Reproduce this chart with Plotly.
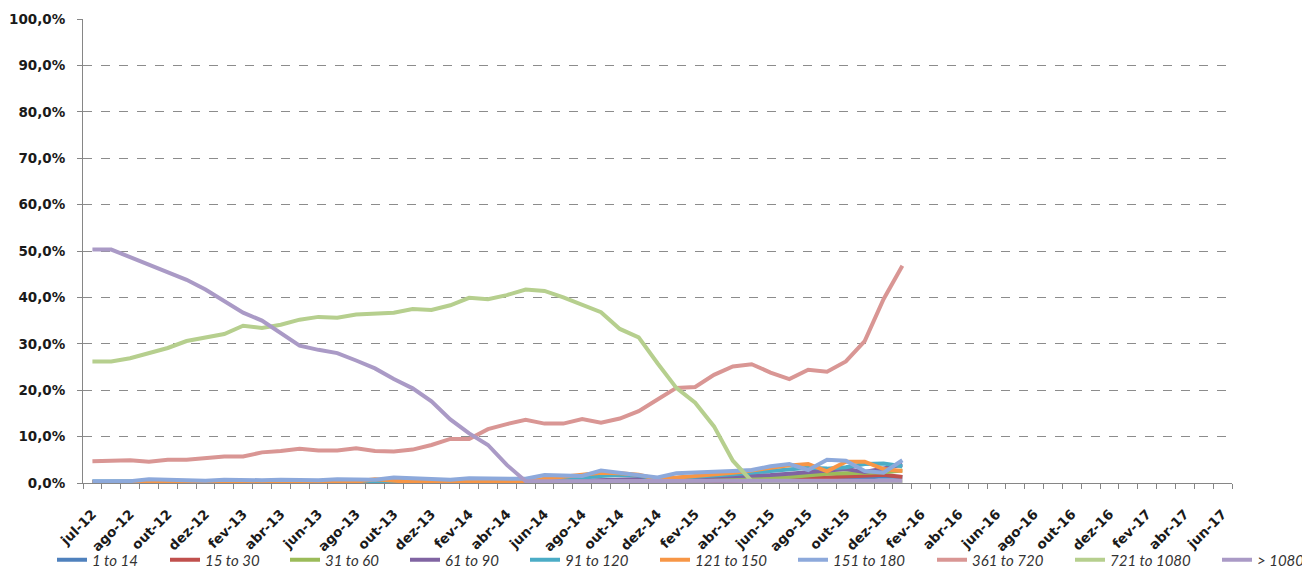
import plotly.graph_objects as go

# ---- axis labels ----
x_tick_labels = ["jul-12", "ago-12", "out-12", "dez-12", "fev-13", "abr-13", "jun-13", "ago-13",
                 "out-13", "dez-13", "fev-14", "abr-14", "jun-14", "ago-14", "out-14", "dez-14",
                 "fev-15", "abr-15", "jun-15", "ago-15", "out-15", "dez-15", "fev-16", "abr-16",
                 "jun-16", "ago-16", "out-16", "dez-16", "fev-17", "abr-17", "jun-17"]
n_categories = 61
y_tick_values = [0, 10, 20, 30, 40, 50, 60, 70, 80, 90, 100]
y_tick_labels = ["0,0%", "10,0%", "20,0%", "30,0%", "40,0%", "50,0%", "60,0%", "70,0%",
                 "80,0%", "90,0%", "100,0%"]

# ---- series values (percent) ----
s_1_14 = [0.2, 0.2, 0.2, 0.2, 0.2, 0.2, 0.2, 0.2, 0.2, 0.2, 0.2, 0.2, 0.2, 0.2, 0.2, 0.2,
          0.2, 0.2, 0.2, 0.2, 0.2, 0.2, 0.2, 0.2, 0.3, 0.3, 0.4, 0.5, 0.5, 0.5, 0.5, 0.5,
          0.5, 0.6, 0.6, 0.7, 0.7, 0.8, 0.8, 0.9, 1.0, 1.2, 1.4, 1.3]
s_15_30 = [0.2, 0.2, 0.2, 0.2, 0.2, 0.2, 0.2, 0.2, 0.2, 0.2, 0.2, 0.2, 0.2, 0.2, 0.2, 0.2,
           0.2, 0.2, 0.2, 0.2, 0.2, 0.2, 0.2, 0.2, 0.2, 0.2, 0.2, 0.2, 0.2, 0.2, 0.3, 0.3,
           0.4, 0.4, 0.5, 0.5, 0.6, 0.8, 1.0, 1.3, 1.5, 1.6, 1.8, 1.3]
s_31_60 = [0.2, 0.2, 0.2, 0.2, 0.2, 0.2, 0.2, 0.3, 0.2, 0.2, 0.2, 0.2, 0.2, 0.2, 0.2, 0.3,
           0.2, 0.2, 0.2, 0.2, 0.2, 0.2, 0.2, 0.2, 0.2, 0.2, 0.2, 0.2, 0.3, 0.3, 0.3, 0.4,
           0.5, 0.6, 0.8, 0.9, 1.1, 1.3, 1.7, 2.0, 2.1, 2.2, 2.3, 2.7]
s_61_90 = [0.2, 0.2, 0.2, 0.2, 0.2, 0.2, 0.2, 0.2, 0.2, 0.2, 0.2, 0.2, 0.2, 0.2, 0.2, 0.2,
           0.2, 0.2, 0.2, 0.2, 0.2, 0.2, 0.2, 0.2, 0.3, 0.4, 0.5, 0.6, 0.8, 0.8, 0.9, 1.0,
           1.1, 1.2, 1.3, 1.5, 1.7, 2.0, 2.3, 2.6, 3.0, 2.4, 3.2, 3.9]
s_91_120 = [0.3, 0.3, 0.3, 0.4, 0.3, 0.3, 0.3, 0.3, 0.3, 0.3, 0.3, 0.3, 0.3, 0.3, 0.4, 0.3,
            0.4, 0.3, 0.3, 0.3, 0.3, 0.3, 0.3, 0.3, 0.5, 0.8, 1.2, 1.5, 1.7, 1.6, 0.8, 1.0,
            1.3, 1.6, 1.9, 2.2, 2.5, 2.9, 3.3, 3.1, 3.4, 4.1, 4.2, 3.6]
s_121_150 = [0.2, 0.2, 0.2, 0.4, 0.2, 0.2, 0.2, 0.3, 0.2, 0.2, 0.2, 0.2, 0.2, 0.2, 0.3, 0.8,
             0.4, 0.2, 0.2, 0.2, 0.2, 0.2, 0.2, 0.2, 0.9, 1.4, 1.7, 2.2, 2.1, 1.8, 0.8, 1.1,
             1.6, 1.9, 2.2, 2.7, 3.3, 3.8, 4.1, 2.5, 4.6, 4.6, 3.0, 2.6]
s_151_180 = [0.4, 0.4, 0.4, 0.8, 0.7, 0.6, 0.5, 0.7, 0.6, 0.6, 0.7, 0.6, 0.6, 0.8, 0.8, 0.7,
             1.2, 1.0, 0.9, 0.7, 1.0, 1.0, 0.9, 0.9, 1.7, 1.7, 1.5, 2.7, 2.2, 1.7, 1.2, 2.1,
             2.2, 2.4, 2.6, 2.8, 3.6, 4.1, 2.8, 5.0, 4.8, 2.6, 2.2, 4.9]
s_361_720 = [4.7, 4.7, 4.9, 4.6, 5.0, 5.0, 5.3, 5.7, 5.7, 6.6, 6.9, 7.4, 7.0, 7.0, 7.5, 6.9,
             6.8, 7.2, 8.2, 9.5, 9.5, 11.6, 12.7, 13.6, 12.8, 12.8, 13.8, 13.0, 13.9, 15.5, 18.0, 20.5,
             20.7, 23.3, 25.1, 25.6, 23.8, 22.4, 24.4, 24.0, 26.2, 30.6, 39.6, 46.8]
s_721_1080 = [26.2, 26.2, 26.9, 28.0, 29.1, 30.6, 31.4, 32.1, 33.9, 33.4, 34.1, 35.2, 35.8, 35.6, 36.3, 36.4,
              36.7, 37.5, 37.3, 38.3, 39.9, 39.6, 40.5, 41.7, 41.4, 40.0, 38.5, 36.8, 33.2, 31.4, 25.8, 20.5,
              17.3, 12.2, 4.8, 0.4, 0.4, 0.4, 0.4, 0.4, 0.4, 0.4, 0.4, 0.4]
s_gt_1080 = [50.3, 50.3, 48.7, 47.1, 45.5, 43.8, 41.7, 39.3, 36.7, 35.0, 32.3, 29.6, 28.7, 28.0, 26.4, 24.7,
             22.4, 20.4, 17.6, 13.7, 10.7, 8.2, 3.9, 0.4, 0.4, 0.4, 0.4, 0.4, 0.4, 0.4, 0.4, 0.4,
             0.4, 0.4, 0.4, 0.4, 0.4, 0.4, 0.4, 0.4, 0.4, 0.5, 0.6, 0.5]

series_names = ["1 to 14", "15 to 30", "31 to 60", "61 to 90", "91 to 120", "121 to 150",
                "151 to 180", "361 to 720", "721 to 1080", "> 1080"]
series_values = [s_1_14, s_15_30, s_31_60, s_61_90, s_91_120, s_121_150,
                 s_151_180, s_361_720, s_721_1080, s_gt_1080]
series_colors = ["#4F81BD", "#C0504D", "#9BBB59", "#8064A2", "#4BACC6", "#F79646",
                 "#8DA9DB", "#D99694", "#B6CF8E", "#AA9AC6"]

# layout geometry (page pixels; the page body has an 8px default margin)
PAGE_OFF = 8
W, H = 1310 - PAGE_OFF, 569 - PAGE_OFF
ML, MR, MT, MB = 83 - PAGE_OFF, 78, 19 - PAGE_OFF, 86
plot_w = W - ML - MR
plot_h = H - MT - MB
plot_left_page = PAGE_OFF + ML
plot_bottom_page = PAGE_OFF + MT + plot_h
legend_text_px = [93, 206, 326, 446, 566, 696, 834, 973, 1111, 1258]
legend_text_offset = 41
legend_center_px = 560

fig = go.Figure()
legend_font = dict(family="Lato, 'Open Sans', sans-serif", size=15, color="#333333", style="italic")
layout_legends = {}
for i, (name, vals, color) in enumerate(zip(series_names, series_values, series_colors)):
    key = "legend" if i == 0 else f"legend{i + 1}"
    fig.add_trace(go.Scatter(
        x=list(range(len(vals))), y=vals, name=name, mode="lines",
        line=dict(color=color, width=4), legend=key,
    ))
    layout_legends[key] = dict(
        orientation="h",
        x=(legend_text_px[i] - legend_text_offset - plot_left_page) / plot_w, xanchor="left",
        y=-(legend_center_px - plot_bottom_page) / plot_h, yanchor="middle",
        font=legend_font, bgcolor="rgba(0,0,0,0)", itemwidth=30,
    )

tick_font = dict(family="'DejaVu Sans', sans-serif", size=13.5, color="#1a1a1a", weight="bold")

fig.update_layout(
    width=W, height=H, autosize=False,
    margin=dict(l=ML, r=MR, t=MT, b=MB, autoexpand=False),
    paper_bgcolor="white", plot_bgcolor="white",
    showlegend=True,
    **layout_legends,
    xaxis=dict(
        range=[-0.5, n_categories - 0.5],
        tickmode="array",
        tickvals=list(range(0, n_categories, 2)),
        ticktext=x_tick_labels,
        tickangle=-45,
        ticks="outside", ticklen=17, tickcolor="rgba(0,0,0,0)",
        tickfont=tick_font,
        showgrid=False, zeroline=False, automargin=False,
        showline=True, linecolor="#868686", linewidth=1,
        minor=dict(tickmode="linear", tick0=-0.5, dtick=1, ticks="outside", ticklen=5,
                   tickcolor="#868686", tickwidth=1, showgrid=False),
    ),
    yaxis=dict(
        range=[0, 100],
        tickmode="array", tickvals=y_tick_values, ticktext=y_tick_labels,
        ticks="outside", ticklen=5, tickcolor="#868686", ticklabelstandoff=9,
        tickfont=dict(tick_font, size=13.5),
        showgrid=True, gridcolor="#8c8c8c", gridwidth=1, griddash="dash",
        zeroline=False, automargin=False,
        showline=True, linecolor="#868686", linewidth=1,
    ),
)

fig.write_html("out.html")
